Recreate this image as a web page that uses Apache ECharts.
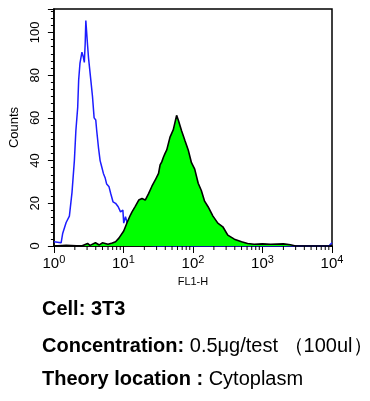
<!DOCTYPE html>
<html><head><meta charset="utf-8">
<script src="https://cdn.jsdelivr.net/npm/echarts@6/dist/echarts.min.js"></script>
<style>html,body{margin:0;padding:0;background:#fff}#c{width:370px;height:401px}</style>
</head><body><div id="c"></div>
<script>
// Isotype control (blue outline)
const blueX = [1.0, 1.02, 1.27, 1.34, 1.50, 1.67, 1.82, 1.97, 2.07, 2.20, 2.27, 2.37, 2.53, 2.65, 2.74, 2.82, 2.88, 3.05, 3.15, 3.40, 3.59, 3.79, 4.00, 4.13, 4.38, 4.62, 4.88, 5.15, 5.45, 5.74, 6.21, 6.55, 7.08, 7.71, 8.41, 9.08, 9.82, 10.1, 10.7, 12, 14, 17, 22, 30, 9000, 10000];
const blueY = [2, 2, 1.5, 6, 11, 14, 25, 40, 54, 65, 77.6, 85.5, 90.8, 88.5, 86, 95, 105.6, 94, 88, 77.6, 70, 60, 59, 54, 46, 40, 37, 34, 32, 29, 27.7, 24.7, 20.7, 20, 18.4, 16, 16.8, 10.7, 13.7, 8, 4, 2, 0.5, 0, 0, 1.5];
// Stained sample (green filled)
const greenX = [1.0, 1.5, 2.5, 3.05, 3.3, 3.96, 4.5, 4.98, 6.0, 6.92, 7.71, 8.61, 9.08, 10.1, 11.3, 12.6, 13.3, 14.8, 16.6, 18.5, 20.6, 23.0, 25.7, 27.1, 28.6, 30.2, 32.0, 33.7, 35.6, 37.7, 39.7, 42.0, 46.8, 52.2, 58.2, 61.5, 68.6, 76.4, 85.5, 95.2, 106, 119, 132, 147, 165, 194, 228, 269, 317, 394, 500, 611, 759, 1000, 1310, 2000, 2524, 3000, 10000];
const greenY = [0, 0.3, 0, 1.2, 0.3, 1.5, 0.5, 1.5, 0.8, 1.4, 2, 3.7, 4.3, 7, 11, 14.5, 16, 18.6, 21.5, 22.2, 21.5, 24.5, 28, 29.4, 30.8, 31, 34, 38, 39.4, 41.7, 43.4, 45, 51, 54.5, 61.2, 59, 54, 49.5, 45, 39, 36, 29.4, 26, 21, 18.4, 14, 10.7, 9, 5.1, 3.2, 2, 1.2, 0.8, 1, 0.8, 1, 0.6, 0, 0];
const xTickValues = [1, 10, 100, 1000, 10000];
const yTickLabels = [0, 20, 40, 60, 80, 100];
const minorXTicks = [];
for (let k = 0; k < 4; k++) for (let m = 2; m <= 9; m++) minorXTicks.push(m * Math.pow(10, k));

const zip = (a, b) => a.map((v, i) => [v, b[i]]);
const FONT = '"Liberation Sans", Arial, sans-serif';

const chart = echarts.init(document.getElementById('c'), null, {renderer: 'canvas'});
chart.setOption({
  animation: false,
  backgroundColor: '#fff',
  grid: {left: 51, top: 9, width: 281, height: 237, show: true, borderColor: '#000', borderWidth: 1.5, backgroundColor: 'transparent'},
  xAxis: {
    type: 'log', logBase: 10, min: 1, max: 10000,
    name: 'FL1-H', nameLocation: 'middle', nameGap: 29,
    nameTextStyle: {fontFamily: FONT, fontSize: 11, color: '#000'},
    axisLine: {lineStyle: {color: '#000', width: 1.5}},
    axisTick: {inside: false, length: 7, lineStyle: {color: '#000', width: 1}},
    splitLine: {show: false},
    axisLabel: {
      margin: 8, color: '#000', fontFamily: FONT, fontSize: 15,
      formatter: v => {
        const e = Math.round(Math.log10(v));
        return xTickValues.indexOf(v) >= 0 || Math.abs(Math.pow(10, e) - v) < 1e-6 ? '{b|10}{e|' + e + '}' : '';
      },
      rich: {
        b: {fontFamily: FONT, fontSize: 15, color: '#000'},
        e: {fontFamily: FONT, fontSize: 11, color: '#000', padding: [0, 0, 9, 0]}
      }
    }
  },
  yAxis: [{
    type: 'value', min: 0, max: 111, interval: 20,
    name: 'Counts', nameLocation: 'middle', nameGap: 28,
    nameTextStyle: {fontFamily: FONT, fontSize: 13, color: '#000'},
    axisLine: {show: true, lineStyle: {color: '#000', width: 1.5}},
    axisTick: {length: 6, lineStyle: {color: '#000', width: 1}},
    splitLine: {show: false},
    axisLabel: {
      rotate: 90, margin: 12, color: '#000', fontFamily: FONT, fontSize: 13,
      formatter: v => (yTickLabels.indexOf(v) >= 0 ? String(v) : '')
    }
  }, {
    type: 'value', min: 0, max: 111, interval: 10 / 3, position: 'left',
    axisLine: {show: false},
    axisTick: {show: true, length: 3, lineStyle: {color: '#000', width: 1}},
    axisLabel: {show: false}, splitLine: {show: false}
  }],
  series: [
    {
      type: 'line', data: zip(blueX, blueY), symbol: 'none', z: 2,
      lineStyle: {color: '#1c1cff', width: 1.5}
    },
    {
      type: 'line', data: zip(greenX, greenY), symbol: 'none', z: 3,
      lineStyle: {color: '#000', width: 1.6},
      areaStyle: {color: '#00ff00', opacity: 1}
    },
    {
      type: 'custom', clip: false, z: 4, silent: true,
      data: minorXTicks.map(v => [v, 0]),
      renderItem: (params, api) => {
        const p = api.coord([api.value(0), 0]);
        return {type: 'line', shape: {x1: p[0], y1: p[1], x2: p[0], y2: p[1] + 4}, style: {stroke: '#000', lineWidth: 1}};
      }
    }
  ],
  graphic: [
    {type: 'text', left: 42, top: 299, style: {text: 'Cell: 3T3', font: 'bold 20px ' + FONT, fill: '#000'}},
    {type: 'text', left: 42, top: 336, style: {
      text: '{b|Concentration:}{r| 0.5μg/test （100ul）}',
      rich: {b: {font: 'bold 20px ' + FONT, fill: '#000'}, r: {font: '20px ' + FONT, fill: '#000'}}
    }},
    {type: 'text', left: 42, top: 369, style: {
      text: '{b|Theory location :}{r| Cytoplasm}',
      rich: {b: {font: 'bold 20px ' + FONT, fill: '#000'}, r: {font: '20px ' + FONT, fill: '#000'}}
    }}
  ]
});
</script></body></html>
